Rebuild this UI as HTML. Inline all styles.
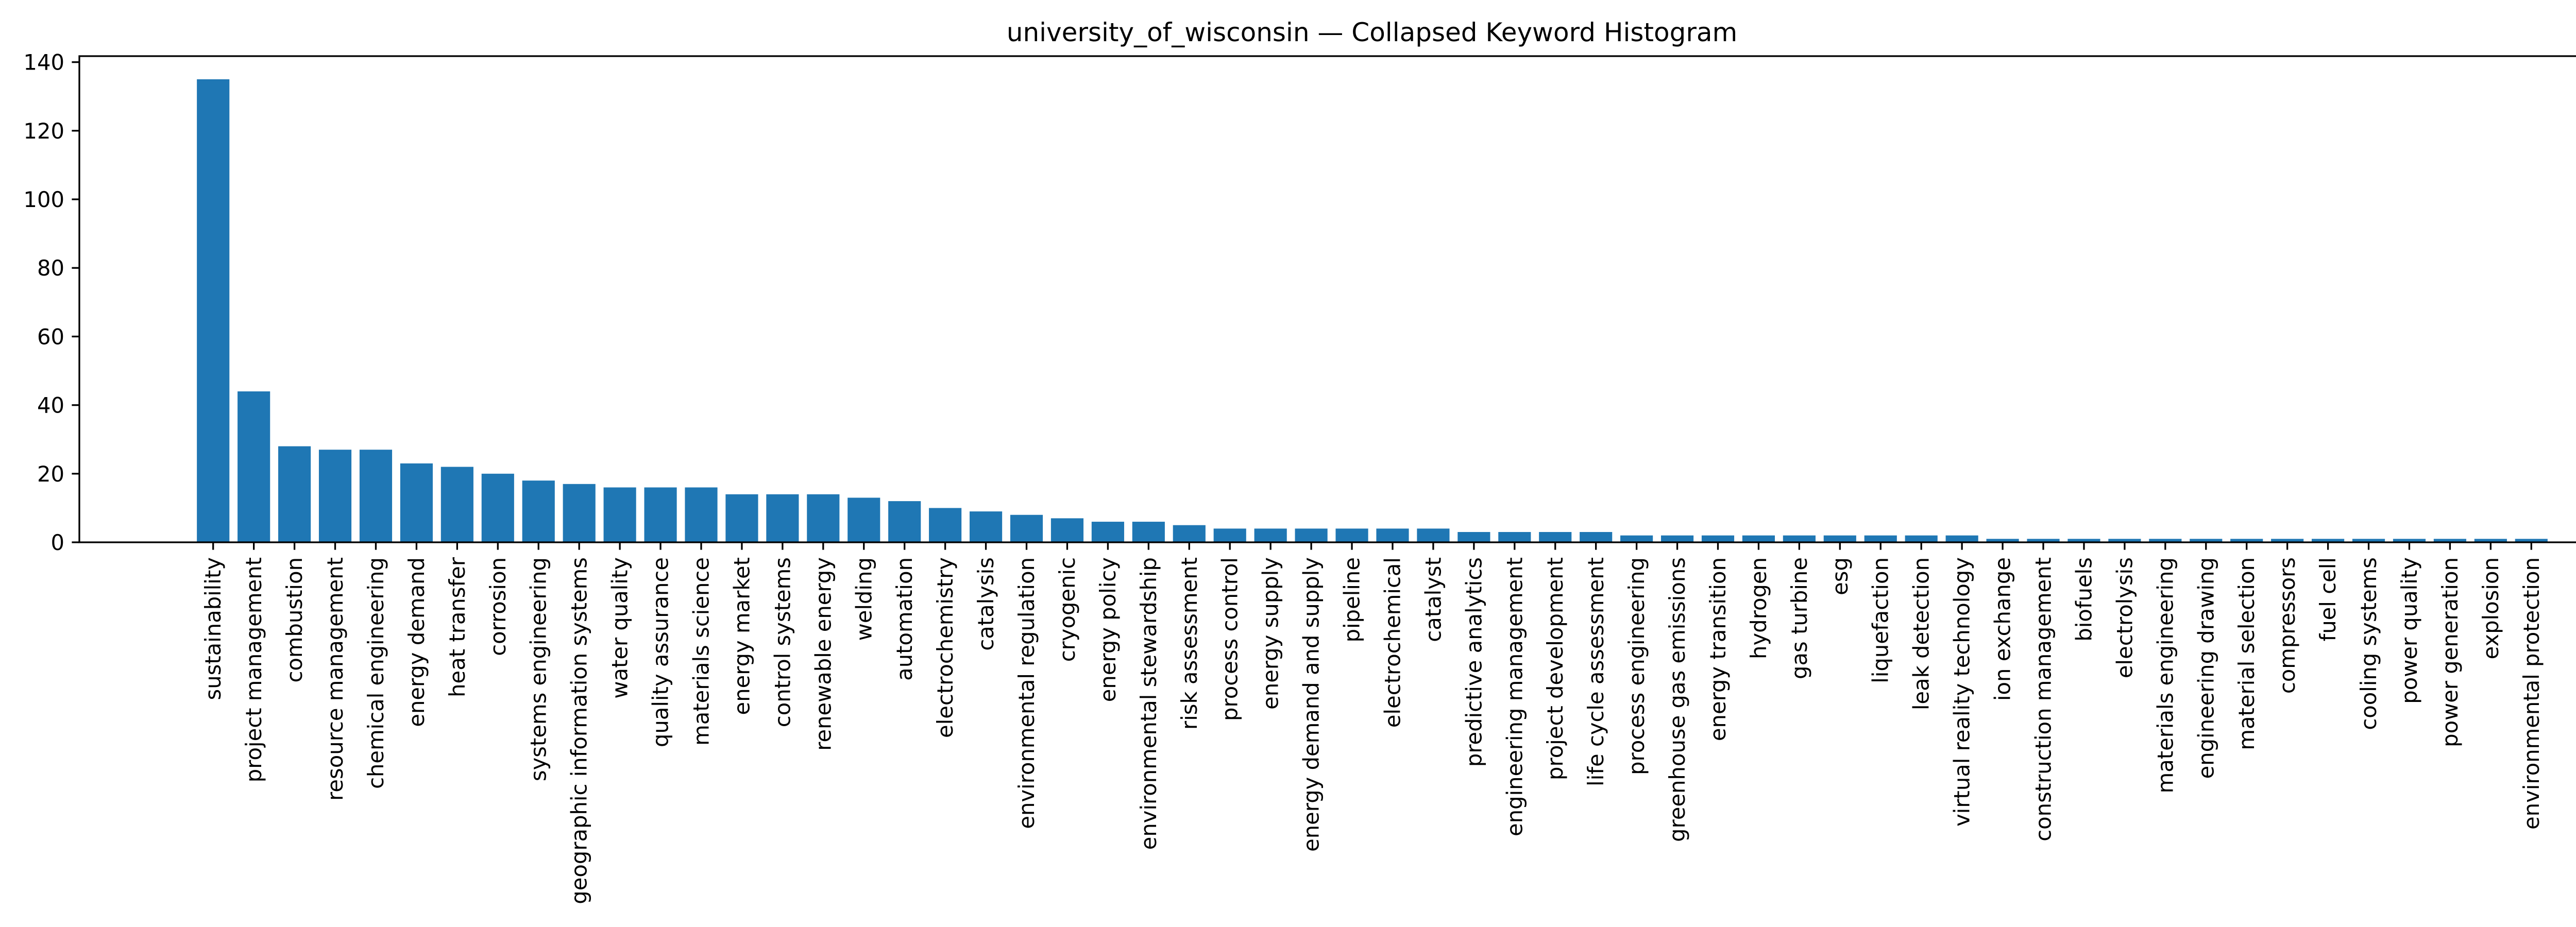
<!DOCTYPE html>
<html><head><meta charset="utf-8"><style>
html,body{margin:0;padding:0;background:#fff;}
svg{display:block;font-family:"DejaVu Sans","Liberation Sans",sans-serif;}
</style></head><body>
<svg id="chart" width="5217" height="1800" viewBox="0 0 5217 1800" xmlns="http://www.w3.org/2000/svg">
<rect x="0" y="0" width="5217" height="1800" fill="#fff"/>
<text x="2663" y="80" font-size="50" text-anchor="middle" fill="#000">university_of_wisconsin — Collapsed Keyword Histogram</text>
<g id="bars"></g>
<g id="yaxis"></g>
<g id="xaxis"></g>
<rect x="154" y="109" width="5019" height="944" fill="none" stroke="#000" stroke-width="3.3"/>
</svg>
<script>
const categories = ["sustainability","project management","combustion","resource management","chemical engineering","energy demand","heat transfer","corrosion","systems engineering","geographic information systems","water quality","quality assurance","materials science","energy market","control systems","renewable energy","welding","automation","electrochemistry","catalysis","environmental regulation","cryogenic","energy policy","environmental stewardship","risk assessment","process control","energy supply","energy demand and supply","pipeline","electrochemical","catalyst","predictive analytics","engineering management","project development","life cycle assessment","process engineering","greenhouse gas emissions","energy transition","hydrogen","gas turbine","esg","liquefaction","leak detection","virtual reality technology","ion exchange","construction management","biofuels","electrolysis","materials engineering","engineering drawing","material selection","compressors","fuel cell","cooling systems","power quality","power generation","explosion","environmental protection"];
const counts = [135,44,28,27,27,23,22,20,18,17,16,16,16,14,14,14,13,12,10,9,8,7,6,6,5,4,4,4,4,4,4,3,3,3,3,2,2,2,2,2,2,2,2,2,1,1,1,1,1,1,1,1,1,1,1,1,1,1];
const yTicks = [0,20,40,60,80,100,120,140];

const NS = "http://www.w3.org/2000/svg";
const L = 154, R = 5173, T = 109, B = 1053;
const yMax = 141.75;
const n = categories.length;
const xMin = -0.4 - 0.05 * (n - 1 + 0.8), xMax = (n - 1) + 0.4 + 0.05 * (n - 1 + 0.8);
function xs(v){ return L + (v - xMin) / (xMax - xMin) * (R - L); }
function ys(v){ return B - v / yMax * (B - T); }
function mk(tag, attrs, parent){ const e = document.createElementNS(NS, tag); for (const k in attrs) e.setAttribute(k, attrs[k]); parent.appendChild(e); return e; }

const gb = document.getElementById('bars');
const gx = document.getElementById('xaxis');
const gy = document.getElementById('yaxis');

counts.forEach((c, i) => {
  const x0 = xs(i - 0.4), x1 = xs(i + 0.4);
  const r = mk('rect', {x: x0, y: ys(c), width: x1 - x0, height: ys(0) - ys(c), fill: '#1f77b4'}, gb);
  
  
  const cx = xs(i);
  const t = mk('line', {x1: cx, x2: cx, y1: B, y2: B + 14.6, stroke: '#000', 'stroke-width': 3.3}, gx);
  
  
  const lb = mk('text', {x: 0, y: 0, 'font-size': 41.7, 'text-anchor': 'end', 'dominant-baseline': 'central', transform: 'translate(' + cx + ',' + (B + 29) + ') rotate(-90)', fill: '#000'}, gx);
  lb.textContent = categories[i];
  
  
});

yTicks.forEach(v => {
  const y = ys(v);
  const t = mk('line', {x1: L - 14.6, x2: L, y1: y, y2: y, stroke: '#000', 'stroke-width': 3.3}, gy);
  
  
  const lb = mk('text', {x: L - 29, y: y + 15, 'font-size': 41.7, 'text-anchor': 'end', fill: '#000'}, gy);
  lb.textContent = v;
  
  
});
</script>
</body></html>
